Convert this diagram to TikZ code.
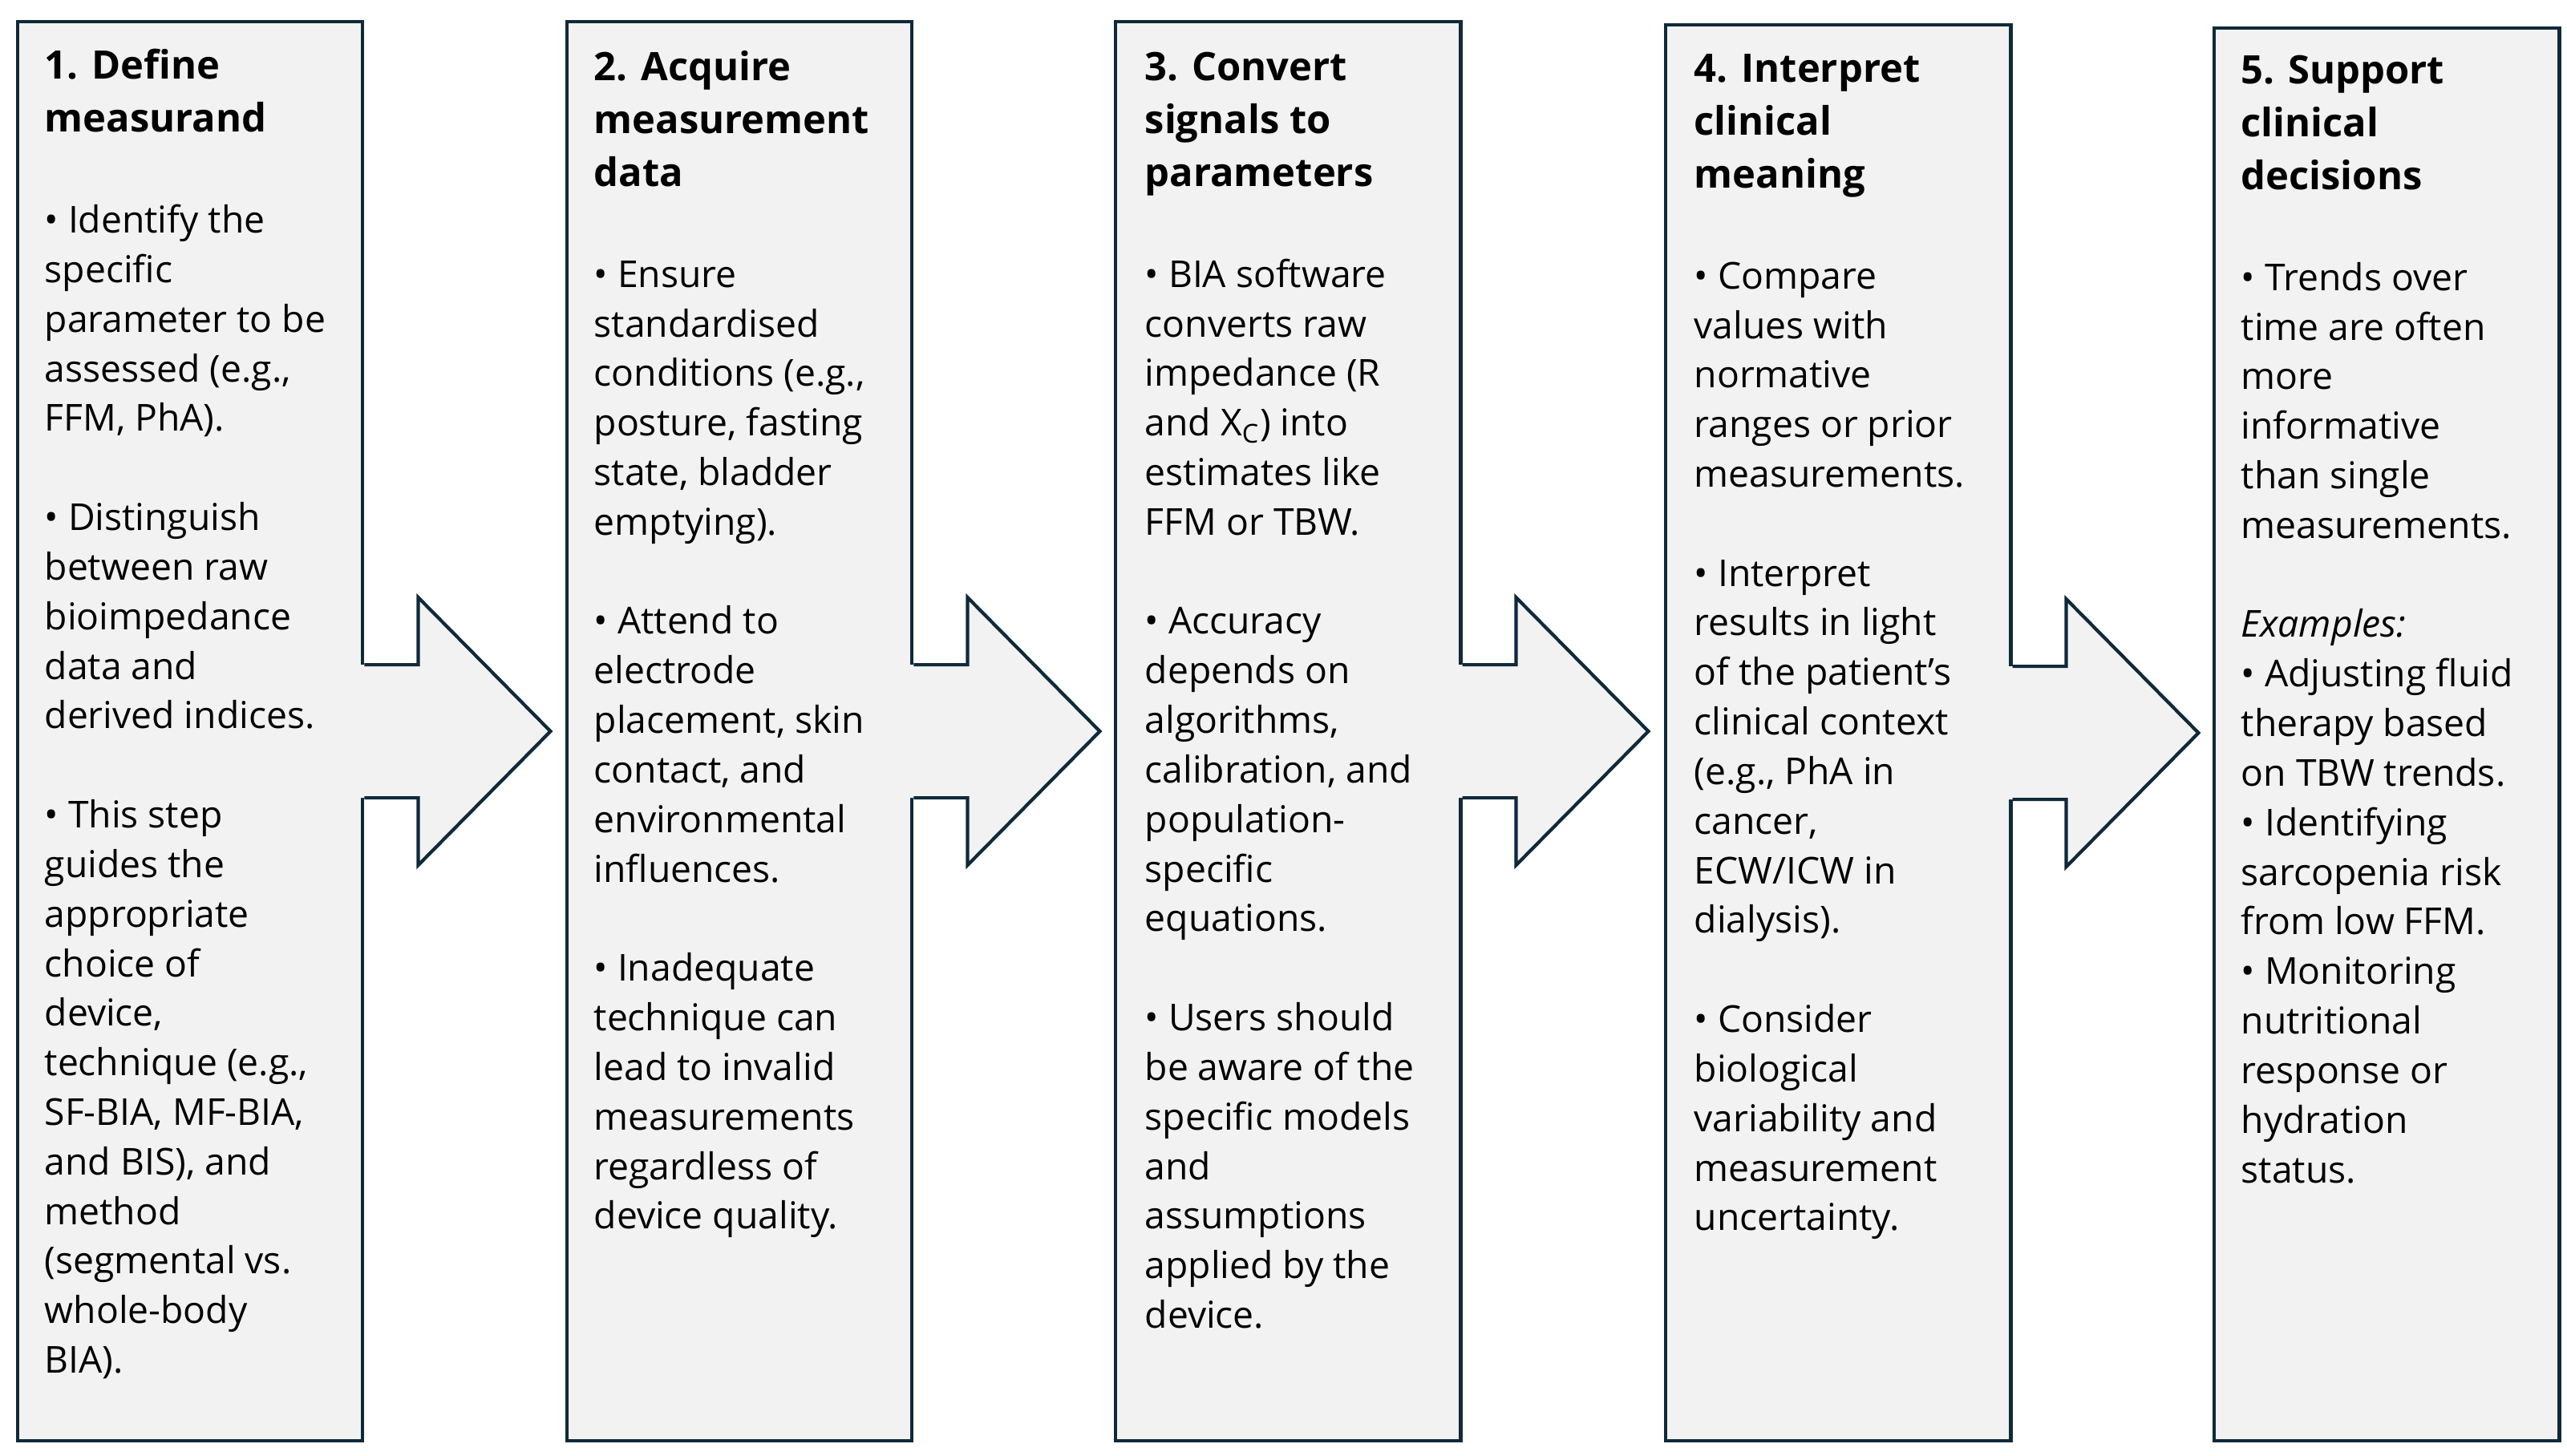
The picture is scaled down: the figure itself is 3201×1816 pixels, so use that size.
\documentclass[tikz,border=0pt]{standalone}
\usepackage{fontspec}
\setmainfont{Open Sans}
\usetikzlibrary{calc}
\definecolor{boxline}{HTML}{0F2A3A}
\definecolor{boxfill}{HTML}{F2F2F2}
\tikzset{
  stepbox/.style={draw=boxline, fill=boxfill, line width=1.2pt, minimum width=4.3cm, inner sep=0pt, anchor=north west},
  steptext/.style={anchor=north west, align=left, inner sep=0pt, font=\fontsize{13.15}{17.58}\selectfont},
  flowarrow/.style={draw=boxline, line width=1.2pt, line join=miter}
}
\newcommand{\steptitle}[1]{{\fontsize{13.9}{18.6}\selectfont\bfseries #1}}
\newcommand{\titleline}{\\[1.05pt]}
\newcommand{\titlegap}{\\[18.3pt]}
\newcommand{\gapline}{\\[17.58pt]}
\begin{document}
\begin{tikzpicture}[x=0.01cm, y=-0.01cm]
\useasboundingbox (0,0) rectangle (3201,1816);
% the five steps
\node[stepbox, minimum height=17.69cm] (b1) at (20,25) {};
\node[stepbox, minimum height=17.69cm] (b2) at (705,25) {};
\node[stepbox, minimum height=17.69cm] (b3) at (1389,25) {};
\node[stepbox, minimum height=17.65cm] (b4) at (2075,29) {};
\node[stepbox, minimum height=17.61cm] (b5) at (2759,33) {};
% block arrows between steps
\foreach \a in {b1,b2,b3,b4}{
  \fill[boxfill] ([shift={(-6,-83)}]\a.east) -- ([shift={(67,-83)}]\a.east)
    -- ([shift={(67,-167)}]\a.east) -- ([shift={(232,0)}]\a.east)
    -- ([shift={(67,167)}]\a.east) -- ([shift={(67,83)}]\a.east)
    -- ([shift={(-6,83)}]\a.east) -- cycle;
  \draw[flowarrow] ([shift={(0,-83)}]\a.east) -- ([shift={(67,-83)}]\a.east)
    -- ([shift={(67,-167)}]\a.east) -- ([shift={(232,0)}]\a.east)
    -- ([shift={(67,167)}]\a.east) -- ([shift={(67,83)}]\a.east)
    -- ([shift={(0,83)}]\a.east);
}
% texts
\node[steptext] (t1) at ([shift={(35,30)}]b1.north west) {\strut\steptitle{1. Define}\titleline
\steptitle{measurand}\titlegap
• Identify the\\ specific\\ parameter to be\\ assessed (e.g.,\\ FFM, PhA).\gapline
• Distinguish\\ between raw\\ bioimpedance\\ data and\\ derived indices.\gapline
• This step\\ guides the\\ appropriate\\ choice of\\ device,\\ technique (e.g.,\\
SF-BIA, MF-BIA,\\ and BIS), and\\ method\\ (segmental vs.\\ whole-body\\ BIA).};
\node[steptext] (t2) at ([shift={(35,32)}]b2.north west) {\strut\steptitle{2. Acquire}\titleline
\steptitle{measurement}\titleline \steptitle{data}\titlegap
• Ensure\\ standardised\\ conditions (e.g.,\\ posture, fasting\\ state, bladder\\ emptying).\gapline
• Attend to\\ electrode\\ placement, skin\\ contact, and\\ environmental\\ influences.\gapline
• Inadequate\\ technique can\\ lead to invalid\\ measurements\\ regardless of\\ device quality.};
\node[steptext] (t3) at ([shift={(38,32)}]b3.north west) {\strut\steptitle{3. Convert}\titleline
\steptitle{signals to}\titleline \steptitle{parameters}\titlegap
• BIA software\\ converts raw\\ impedance (R\\ and X\textsubscript{C}) into\\ estimates like\\ FFM or TBW.\gapline
• Accuracy\\ depends on\\ algorithms,\\ calibration, and\\ population-\\ specific\\ equations.\gapline
• Users should\\ be aware of the\\ specific models\\ and\\ assumptions\\ applied by the\\ device.};
\node[steptext] (t4) at ([shift={(37,30)}]b4.north west) {\strut\steptitle{4. Interpret}\titleline
\steptitle{clinical}\titleline \steptitle{meaning}\titlegap
• Compare\\ values with\\ normative\\ ranges or prior\\ measurements.\gapline
• Interpret\\ results in light\\ of the patient's\\ clinical context\\ (e.g., PhA in\\ cancer,\\ ECW/ICW in\\ dialysis).\gapline
• Consider\\ biological\\ variability and\\ measurement\\ uncertainty.};
\node[steptext] (t5) at ([shift={(35,28)}]b5.north west) {\strut\steptitle{5. Support}\titleline
\steptitle{clinical}\titleline \steptitle{decisions}\titlegap
• Trends over\\ time are often\\ more\\ informative\\ than single\\ measurements.\gapline
\textit{Examples:}\\ • Adjusting fluid\\ therapy based\\ on TBW trends.\\
• Identifying\\ sarcopenia risk\\ from low FFM.\\
• Monitoring\\ nutritional\\ response or\\ hydration\\ status.};
\end{tikzpicture}
\end{document}
